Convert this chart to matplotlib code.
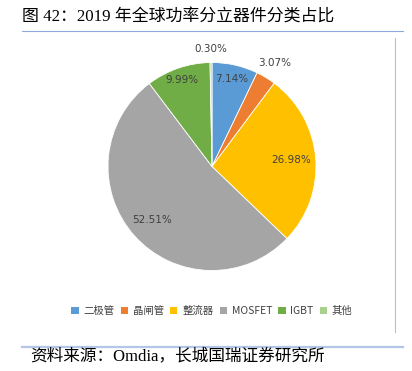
import numpy as np
import matplotlib
matplotlib.use("Agg")
import matplotlib.pyplot as plt
from matplotlib.lines import Line2D
from matplotlib.patches import Patch

plt.rcParams['font.family'] = ['Noto Sans CJK SC', 'DejaVu Sans']

categories = ['二极管', '晶闸管', '整流器', 'MOSFET', 'IGBT', '其他']
values = [7.14, 3.07, 26.98, 52.51, 9.99, 0.30]
labels = ['7.14%', '3.07%', '26.98%', '52.51%', '9.99%', '0.30%']
colors = ['#5B9BD5', '#ED7D31', '#FFC000', '#A5A5A5', '#70AD47', '#A9D18E']
label_r = [0.86, 1.16, 0.76, 0.77, 0.88, 1.13]

W, H = 412, 371
fig = plt.figure(figsize=(W/100, H/100), dpi=100)

R = 104
cx, cy = 212, 166.5
size = 2.5 * R
ax = fig.add_axes([(cx - size/2)/W, (H - cy - size/2)/H, size/W, size/H])
wedges, _ = ax.pie(values, colors=colors, startangle=90, counterclock=False,
                   wedgeprops=dict(edgecolor='white', linewidth=0.6))
ax.set_xlim(-1.25, 1.25)
ax.set_ylim(-1.25, 1.25)
ax.set_aspect('equal')
ax.axis('off')

for w, lab, r in zip(wedges, labels, label_r):
    ang = np.deg2rad((w.theta1 + w.theta2) / 2)
    ax.text(r*np.cos(ang), r*np.sin(ang), lab, ha='center', va='center',
            fontsize=7.5, color='#404040', family=['DejaVu Sans'])

handles = [Patch(facecolor=c, edgecolor='none') for c in colors]
fig.legend(handles, categories, loc='center', bbox_to_anchor=(212/W, 1 - 311/H),
           ncol=6, frameon=False, fontsize=7.5, handlelength=0.7, handleheight=0.7,
           handletextpad=0.45, columnspacing=0.6, labelcolor='#404040')

# title
fig.text(22/W, 1 - 18/H, '图 42：2019 年全球功率分立器件分类占比', ha='left', va='center',
         fontsize=12.2, family=['Liberation Serif', 'Noto Sans CJK SC'], color='black')
fig.text(30/W, 1 - 356/H, '资料来源：Omdia，长城国瑞证券研究所', ha='left', va='center',
         fontsize=12, family=['Liberation Serif', 'Noto Sans CJK SC'], color='black')

# decorative lines
fig.add_artist(Line2D([22/W, 403/W], [1 - 31/H, 1 - 31/H], color='#8EA9DB', lw=0.8))
fig.add_artist(Line2D([395/W, 395/W], [1 - 38/H, 1 - 332/H], color='#BFBFBF', lw=0.8))
fig.add_artist(Line2D([22/W, 403/W], [1 - 347/H, 1 - 347/H], color='#B4C6E7', lw=1.6))

fig.savefig('out.png', dpi=100)
